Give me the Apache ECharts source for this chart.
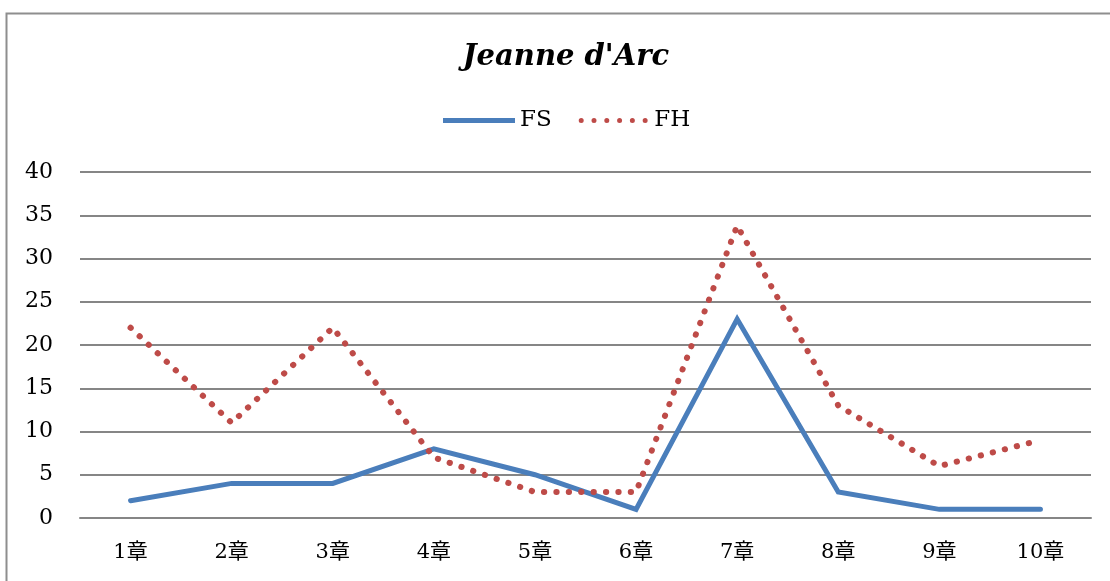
<!DOCTYPE html>
<html>
<head>
<meta charset="utf-8">
<script src="https://cdn.jsdelivr.net/npm/echarts@6/dist/echarts.min.js"></script>
<style>
  html, body { margin: 0; padding: 0; background: #fff; }
  #chart { width: 1110px; height: 581px; }
</style>
</head>
<body>
<div id="chart"></div>
<script>
// Chapter labels along the x axis
const chapters = ['1章', '2章', '3章', '4章', '5章', '6章', '7章', '8章', '9章', '10章'];
// Counts per chapter
const fsValues = [2, 4, 4, 8, 5, 1, 23, 3, 1, 1];
const fhValues = [22, 11, 22, 7, 3, 3, 33.8, 13, 6, 9];
// Value axis range
const yMin = 0;
const yMax = 40;
const yStep = 5;

const serif = '"DejaVu Serif", "Liberation Serif", "Noto Sans CJK JP", serif';
const fsColor = '#4a7ebb';
const fhColor = '#be4b48';

// Legend swatches: a solid bar for FS and a row of round dots for FH
function dotRowPath(count, r, step) {
  let d = '';
  for (let i = 0; i < count; i++) {
    const cx = r + i * step;
    d += 'M' + (cx - r) + ',' + r +
         ' a' + r + ',' + r + ' 0 1,0 ' + (2 * r) + ',0' +
         ' a' + r + ',' + r + ' 0 1,0 ' + (-2 * r) + ',0 Z ';
  }
  return 'path://' + d;
}

const chart = echarts.init(document.getElementById('chart'), null, { renderer: 'canvas' });

chart.setOption({
  animation: false,
  backgroundColor: '#ffffff',
  graphic: [{
    type: 'rect',
    left: 4, top: 11,
    shape: { width: 1130, height: 600 },
    style: { fill: 'none', stroke: '#8e8e8e', lineWidth: 2 },
    silent: true
  }],
  title: {
    text: "Jeanne d'Arc",
    left: 561, top: 38,
    textAlign: 'center',
    textStyle: {
      fontFamily: serif,
      fontStyle: 'italic',
      fontWeight: 'bold',
      fontSize: 29,
      color: '#000'
    }
  },
  legend: {
    left: 443, top: 109,
    padding: 0,
    itemWidth: 72, itemHeight: 5,
    itemGap: 27,
    textStyle: { fontFamily: serif, fontSize: 23, color: '#000', padding: [0, 0, 0, 0] },
    data: [
      { name: 'FS', icon: 'rect', itemStyle: { color: fsColor } },
      { name: 'FH', icon: dotRowPath(6, 2.6, 13.3), itemStyle: { color: fhColor } }
    ]
  },
  grid: { left: 80, right: 19, top: 172, bottom: 63, containLabel: false },
  xAxis: {
    type: 'category',
    data: chapters,
    boundaryGap: true,
    axisLine: { show: true, lineStyle: { color: '#868686', width: 2 } },
    axisTick: { show: false },
    axisLabel: { fontFamily: serif, fontSize: 21, color: '#000', margin: 24 }
  },
  yAxis: {
    type: 'value',
    min: yMin, max: yMax, interval: yStep,
    axisLine: { show: false },
    axisTick: { show: false },
    splitLine: { lineStyle: { color: '#868686', width: 2 } },
    axisLabel: { fontFamily: serif, fontSize: 22, color: '#000', margin: 27 }
  },
  series: [
    {
      name: 'FS',
      type: 'line',
      data: fsValues,
      symbol: 'none',
      color: fsColor,
      lineStyle: { color: fsColor, width: 5, cap: 'round', join: 'miter' }
    },
    {
      name: 'FH',
      type: 'line',
      data: fhValues,
      symbol: 'none',
      color: fhColor,
      lineStyle: { color: fhColor, width: 6, type: [0.3, 12.1], cap: 'round' }
    }
  ]
});
</script>
</body>
</html>
